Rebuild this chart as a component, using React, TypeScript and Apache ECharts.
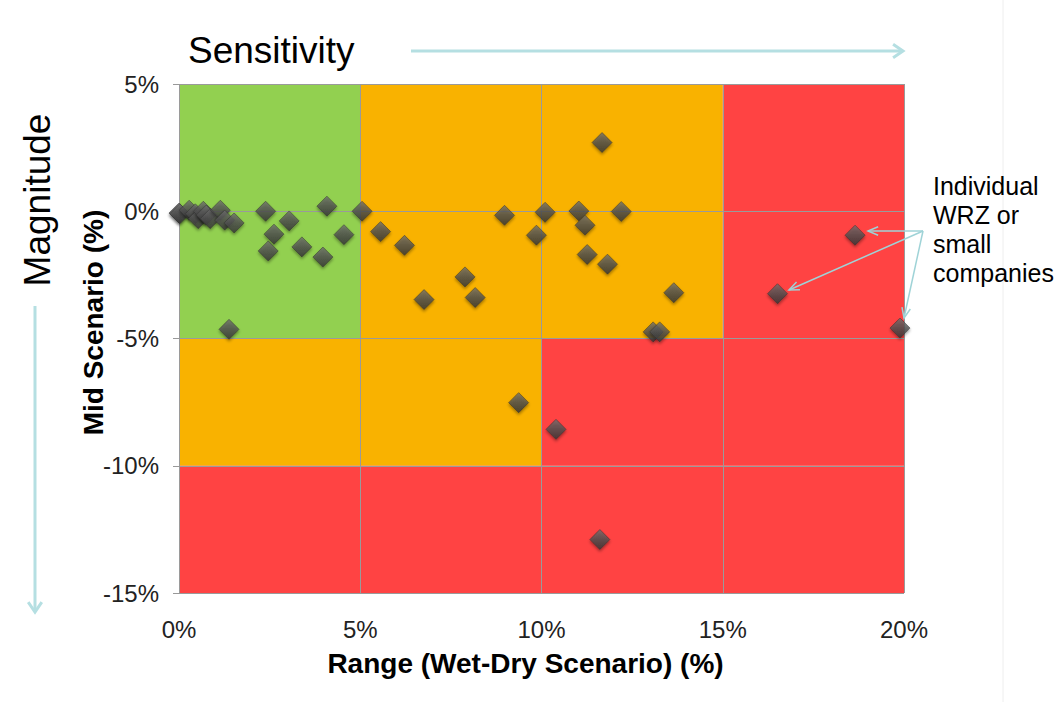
import React, { useEffect, useRef } from "react";
import * as echarts from "echarts";

// Data: Range (Wet-Dry) %, Mid Scenario %
const rangeValues: number[] = [
  0.0, 0.02, 0.28, 0.45, 0.53, 0.67, 0.75, 0.86, 1.14, 1.26, 1.52, 1.38,
  2.39, 3.04, 2.62, 2.46, 3.39, 3.97, 4.08, 4.55, 5.05, 5.56, 6.22, 7.89,
  6.76, 8.17, 8.98, 11.67, 10.1, 9.86, 11.03, 11.2, 12.2, 11.26, 11.82, 13.65,
  13.08, 13.26, 9.37, 10.4, 11.61, 18.65, 16.51, 19.89,
];
const midValues: number[] = [
  -0.07, -0.1, 0.04, -0.1, -0.29, 0.0, -0.15, -0.29, 0.04, -0.35, -0.46, -4.64,
  0.0, -0.38, -0.9, -1.56, -1.4, -1.8, 0.2, -0.92, 0.0, -0.8, -1.34, -2.58,
  -3.47, -3.39, -0.16, 2.7, -0.04, -0.94, 0.01, -0.55, -0.01, -1.7, -2.08, -3.2,
  -4.74, -4.74, -7.52, -8.57, -12.9, -0.94, -3.24, -4.59,
];

// Zones: [xFrom, yFrom, xTo, yTo, colour-key]
const zones: [number, number, number, number, string][] = [
  [0, -5, 5, 5, "green"],
  [5, -5, 15, 5, "orange"],
  [15, -5, 20, 5, "red"],
  [0, -10, 10, -5, "orange"],
  [10, -10, 20, -5, "red"],
  [0, -15, 20, -10, "red"],
];
const xTicks: number[] = [0, 5, 10, 15, 20];
const yTicks: number[] = [5, 0, -5, -10, -15];

const COLORS: Record<string, string> = {
  green: "#92D050",
  orange: "#F9B200",
  red: "#FF4343",
};

const FONT = "'Liberation Sans', Arial, sans-serif";
const ARROW = "#9fd3d7";

function arrowHead(tx: number, ty: number, fx: number, fy: number, len = 10, spread = 0.45) {
  const ang = Math.atan2(ty - fy, tx - fx);
  const a1 = ang + Math.PI - spread;
  const a2 = ang + Math.PI + spread;
  return [
    [tx + len * Math.cos(a1), ty + len * Math.sin(a1)],
    [tx, ty],
    [tx + len * Math.cos(a2), ty + len * Math.sin(a2)],
  ];
}

export default function App() {
  const ref = useRef<HTMLDivElement>(null);
  useEffect(() => {
    if (!ref.current) return;
    const chart = echarts.init(ref.current, undefined, { renderer: "svg" });

    const hub = [923, 231];
    const targets = [
      [868, 231],
      [789, 290],
      [904, 318],
    ];
    const annotationArrows: any[] = [];
    targets.forEach((t) => {
      annotationArrows.push({
        type: "line",
        shape: { x1: hub[0], y1: hub[1], x2: t[0], y2: t[1] },
        style: { stroke: ARROW, lineWidth: 1.5 },
        z: 100,
      });
      annotationArrows.push({
        type: "polyline",
        shape: { points: arrowHead(t[0], t[1], hub[0], hub[1], 11, 0.4) },
        style: { stroke: ARROW, lineWidth: 1.5, fill: null },
        z: 100,
      });
    });

    chart.setOption({
      animation: false,
      backgroundColor: "#ffffff",
      textStyle: { fontFamily: FONT },
      grid: { left: 179, right: 150, top: 84, bottom: 109 },
      xAxis: {
        type: "value",
        min: 0,
        max: 20,
        interval: 5,
        name: "Range (Wet-Dry Scenario) (%)",
        nameLocation: "middle",
        nameGap: 56,
        nameMoveOverlap: false,
        nameTextStyle: {
          fontSize: 28,
          fontWeight: "bold",
          color: "#000",
          fontFamily: FONT,
          padding: [0, 32, 0, 0],
        },
        axisLine: { show: false },
        axisTick: { show: false },
        splitLine: { show: false },
        axisLabel: {
          formatter: (v: number) => `${v}%`,
          fontSize: 24,
          color: "#222",
          margin: 24,
          fontFamily: FONT,
        },
      },
      yAxis: {
        type: "value",
        min: -15,
        max: 5,
        interval: 5,
        name: "Mid Scenario (%)",
        nameLocation: "middle",
        nameGap: 72,
        nameMoveOverlap: false,
        nameTextStyle: {
          fontSize: 28,
          fontWeight: "bold",
          color: "#000",
          fontFamily: FONT,
          padding: [0, 0, 0, 32],
        },
        axisLine: { show: false },
        axisTick: { show: true, length: 6, lineStyle: { color: "#999" } },
        splitLine: { show: false },
        axisLabel: {
          formatter: (v: number) => `${v}%`,
          fontSize: 24,
          color: "#222",
          margin: 20,
          fontFamily: FONT,
        },
      },
      series: [
        {
          type: "scatter",
          data: [],
          silent: true,
          markArea: {
            silent: true,
            data: zones.map((z) => [
              { xAxis: z[0], yAxis: z[1], itemStyle: { color: COLORS[z[4]], opacity: 1 } },
              { xAxis: z[2], yAxis: z[3] },
            ]),
          },
          markLine: {
            silent: true,
            symbol: ["none", "none"],
            label: { show: false },
            lineStyle: { color: "#9a9a9a", type: "solid", width: 1 },
            data: [
              ...xTicks.map((v) => ({ xAxis: v })),
              ...yTicks.map((v) => ({ yAxis: v })),
            ],
          },
        },
        {
          type: "scatter",
          symbol: "diamond",
          symbolSize: 20,
          data: rangeValues.map((x, i) => [x, midValues[i]]),
          itemStyle: {
            color: new echarts.graphic.LinearGradient(0, 0, 0, 1, [
              { offset: 0, color: "#6e6e6e" },
              { offset: 0.5, color: "#505050" },
              { offset: 1, color: "#353535" },
            ]),
            borderColor: "#2e2e2e",
            borderWidth: 0.6,
            shadowBlur: 3,
            shadowOffsetY: 2,
            shadowColor: "rgba(0,0,0,0.45)",
          },
          z: 5,
        },
      ],
      graphic: [
        {
          type: "line",
          shape: { x1: 1003, y1: 0, x2: 1003, y2: 702 },
          style: { stroke: "#eeeeee", lineWidth: 1 },
        },
        {
          type: "text",
          x: 188,
          y: 50,
          style: {
            text: "Sensitivity",
            font: `37px ${FONT}`,
            fill: "#000",
            verticalAlign: "middle",
          },
        },
        {
          type: "line",
          shape: { x1: 411, y1: 51, x2: 902, y2: 51 },
          style: { stroke: "#b5dfe2", lineWidth: 3 },
        },
        {
          type: "polyline",
          shape: { points: arrowHead(903, 51, 411, 51, 12, 0.6) },
          style: { stroke: "#b5dfe2", lineWidth: 3, fill: null },
        },
        {
          type: "text",
          x: 37,
          y: 200,
          rotation: Math.PI / 2,
          style: {
            text: "Magnitude",
            font: `37px ${FONT}`,
            fill: "#000",
            align: "center",
            verticalAlign: "middle",
          },
        },
        {
          type: "line",
          shape: { x1: 35, y1: 306, x2: 35, y2: 611 },
          style: { stroke: "#b5dfe2", lineWidth: 3 },
        },
        {
          type: "polyline",
          shape: { points: arrowHead(35, 612, 35, 306, 12, 0.6) },
          style: { stroke: "#b5dfe2", lineWidth: 3, fill: null },
        },
        {
          type: "text",
          x: 933,
          y: 171,
          style: {
            text: "Individual\nWRZ or\nsmall\ncompanies",
            font: `25px ${FONT}`,
            lineHeight: 29,
            fill: "#000",
          },
        },
        ...annotationArrows,
      ],
    });
    return () => chart.dispose();
  }, []);
  return (
    <div
      ref={ref}
      style={{ position: "fixed", left: 0, top: 0, width: 1054, height: 702 }}
    />
  );
}
